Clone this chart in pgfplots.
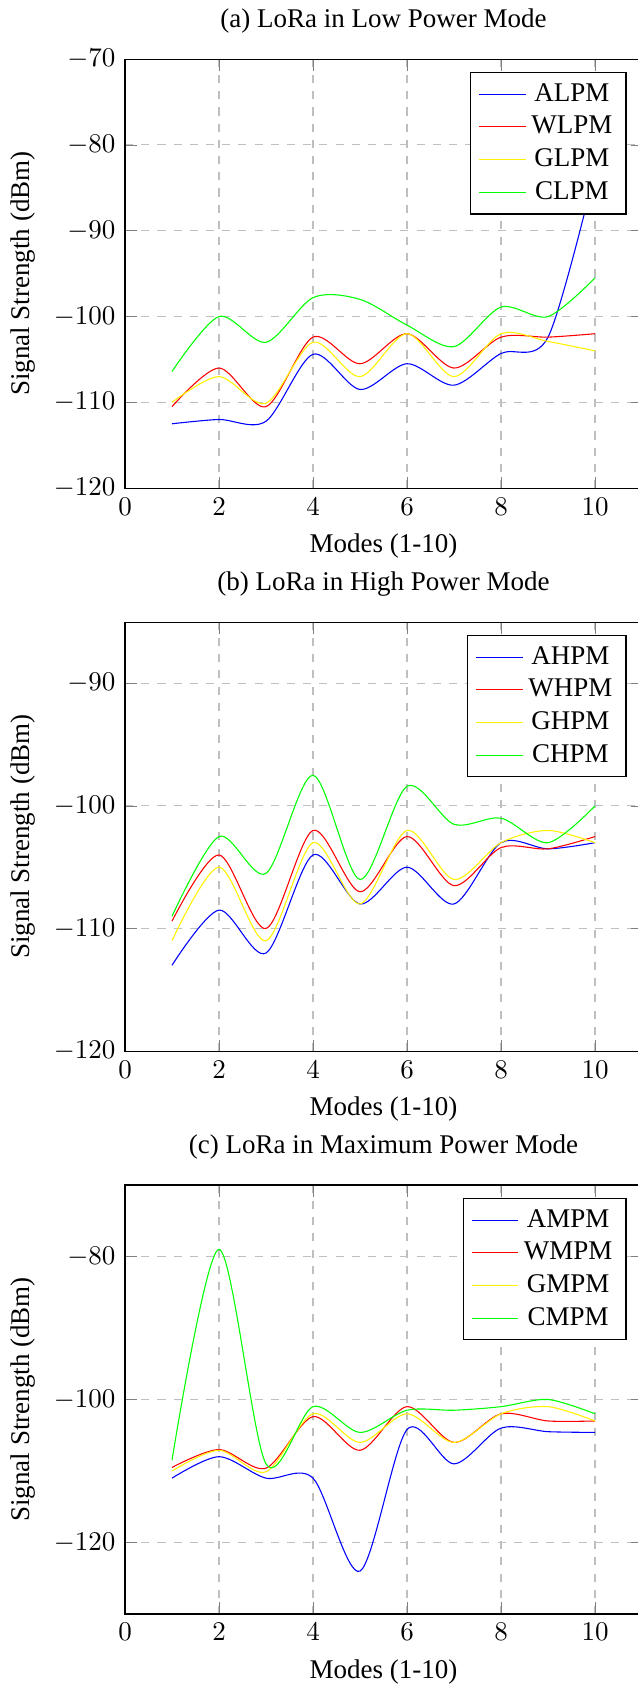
\documentclass[border=0pt]{standalone}
\usepackage{fontspec}
\setmainfont{Liberation Serif}
\usepackage{pgfplots}
\usepackage{pgfplotstable}
\pgfplotsset{compat=1.18}

% x  A  W  G  C  (signal strength, dBm)
\pgfplotstableread{
x  A      W      G      C
1  -112.5 -110.5 -110.0 -106.4
2  -112.0 -106.0 -107.0 -100.0
3  -112.2 -110.5 -110.1 -103.0
4  -104.4 -102.4 -103.0 -97.8
5  -108.5 -105.5 -107.0 -98.0
6  -105.5 -102.0 -102.0 -101.0
7  -108.0 -106.0 -107.0 -103.5
8  -104.3 -102.4 -102.0 -98.9
9  -102.4 -102.4 -102.9 -100.0
10 -83.0  -102.0 -104.0 -95.5
}\lowpower

\pgfplotstableread{
x  A      W      G      C
1  -113.0 -109.4 -111.0 -109.0
2  -108.5 -104.0 -105.0 -102.5
3  -112.0 -110.0 -111.0 -105.5
4  -104.0 -102.0 -103.0 -97.5
5  -108.0 -107.0 -108.0 -106.0
6  -105.0 -102.5 -102.0 -98.4
7  -108.0 -106.5 -106.0 -101.5
8  -103.0 -103.4 -103.0 -101.0
9  -103.5 -103.5 -102.0 -103.0
10 -103.0 -102.5 -103.0 -100.0
}\highpower

\pgfplotstableread{
x  A      W      G      C
1  -111.0 -109.5 -110.0 -108.5
2  -108.0 -107.0 -107.1 -79.0
3  -111.0 -109.6 -110.1 -109.0
4  -111.0 -102.4 -102.0 -101.0
5  -124.0 -107.1 -106.0 -104.6
6  -104.2 -101.0 -102.0 -101.5
7  -109.0 -106.0 -106.0 -101.5
8  -104.0 -102.0 -102.0 -101.0
9  -104.5 -103.0 -101.0 -100.0
10 -104.6 -103.0 -103.0 -102.0
}\maxpower

\pgfplotsset{
  lora/.style={
    scale only axis,
    width=191.5pt, height=158.9pt,
    xmin=0, xmax=11,
    xtick={0,2,...,10},
    xmajorgrids, ymajorgrids,
    grid style=dashed,
    xlabel={Modes (1-10)},
    ylabel={Signal Strength (dBm)},
    legend pos=north east,
    every axis plot/.append style={smooth, no markers},
  },
}

\begin{document}
\begin{tikzpicture}
\begin{axis}[lora, at={(0,0)}, anchor=north west,
  title={(a) LoRa in Low Power Mode},
  ymin=-120, ymax=-70, ytick={-120,-110,...,-70}]
\addplot[blue]   table[x=x,y=A] {\lowpower};
\addplot[red]    table[x=x,y=W] {\lowpower};
\addplot[yellow] table[x=x,y=G] {\lowpower};
\addplot[green]  table[x=x,y=C] {\lowpower};
\legend{ALPM,WLPM,GLPM,CLPM}
\end{axis}

\begin{axis}[lora, at={(0,-208.5pt)}, anchor=north west,
  title={(b) LoRa in High Power Mode},
  ymin=-120, ymax=-85, ytick={-120,-110,-100,-90}]
\addplot[blue]   table[x=x,y=A] {\highpower};
\addplot[red]    table[x=x,y=W] {\highpower};
\addplot[yellow] table[x=x,y=G] {\highpower};
\addplot[green]  table[x=x,y=C] {\highpower};
\legend{AHPM,WHPM,GHPM,CHPM}
\end{axis}

\begin{axis}[lora, at={(0,-417pt)}, anchor=north west,
  title={(c) LoRa in Maximum Power Mode},
  ymin=-130, ymax=-70, ytick={-120,-100,-80}]
\addplot[blue]   table[x=x,y=A] {\maxpower};
\addplot[red]    table[x=x,y=W] {\maxpower};
\addplot[yellow] table[x=x,y=G] {\maxpower};
\addplot[green]  table[x=x,y=C] {\maxpower};
\legend{AMPM,WMPM,GMPM,CMPM}
\end{axis}

\pgfresetboundingbox
\useasboundingbox (-46.3pt,-602.2pt) rectangle (190pt,21.9pt);
\end{tikzpicture}
\end{document}
